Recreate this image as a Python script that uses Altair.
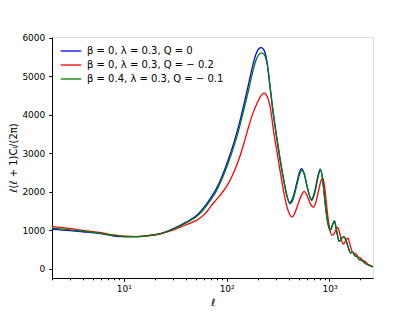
import altair as alt
import pandas as pd

labels = ["β = 0, λ = 0.3, Q = 0", "β = 0, λ = 0.3, Q = − 0.2", "β = 0.4, λ = 0.3, Q = − 0.1"]
colors = ["#0000ff", "#ff0000", "#008000"]

ell_blue = [2, 3, 4, 6, 8, 10, 13, 17, 22, 30, 40, 52, 62, 70, 79, 90, 104, 118, 131, 148, 164, 180, 192, 205, 217,
            230, 245, 265, 285, 308, 332, 357, 385, 409, 440, 480, 510, 535, 565, 610, 668, 720, 770, 813, 850, 890,
            930, 970, 1017, 1060, 1115, 1170, 1240, 1300, 1370, 1440, 1520, 1600, 1680, 1760, 1860, 1960, 2060, 2200,
            2400, 2650]
cl_blue = [1030, 995, 965, 915, 855, 838, 840, 865, 910, 1040, 1210, 1405, 1640, 1843, 2070, 2400, 2846, 3290, 3717,
           4300, 4820, 5290, 5560, 5710, 5740, 5680, 5420, 4678, 3980, 3369, 2800, 2322, 1900, 1720, 1840, 2230, 2500,
           2600, 2490, 2100, 1800, 2020, 2400, 2590, 2400, 1920, 1450, 1150, 1010, 1120, 1256, 1000, 720, 780, 840,
           760, 560, 420, 440, 350, 320, 240, 230, 160, 105, 55]

ell_red = [2, 3, 4, 6, 8, 10, 13, 17, 22, 30, 40, 52, 62, 70, 79, 90, 104, 118, 131, 148, 164, 180, 197, 215, 232,
           248, 265, 285, 308, 332, 357, 385, 409, 432, 460, 500, 535, 568, 610, 660, 700, 740, 790, 830, 863, 895,
           930, 965, 1005, 1050, 1100, 1150, 1207, 1260, 1310, 1369, 1440, 1511, 1580, 1660, 1740, 1820, 1900, 1990,
           2080, 2200, 2350, 2500, 2650]
cl_red = [1100, 1050, 1000, 940, 880, 848, 840, 858, 900, 1010, 1140, 1275, 1440, 1623, 1790, 1970, 2220, 2520, 2830,
          3280, 3700, 4040, 4290, 4490, 4560, 4470, 4200, 3600, 3050, 2520, 2030, 1620, 1420, 1350, 1450, 1720, 1920,
          2010, 1880, 1660, 1600, 1750, 2080, 2300, 2350, 2150, 1750, 1350, 1050, 880, 900, 1000, 1073, 920, 730,
          647, 740, 796, 640, 450, 410, 380, 310, 290, 230, 200, 130, 90, 60]

ell_green = [2, 3, 4, 6, 8, 10, 13, 17, 22, 30, 40, 52, 62, 70, 79, 90, 104, 118, 131, 148, 164, 180, 192, 205, 220,
             235, 250, 268, 288, 310, 334, 360, 388, 412, 443, 483, 513, 538, 568, 613, 671, 723, 773, 816, 853, 893,
             933, 973, 1020, 1063, 1118, 1173, 1243, 1303, 1373, 1443, 1523, 1603, 1683, 1763, 1863, 1963, 2063, 2200,
             2400, 2650]
cl_green = [1060, 1015, 980, 925, 870, 842, 838, 860, 905, 1030, 1190, 1380, 1600, 1790, 2010, 2330, 2760, 3190, 3600,
            4160, 4660, 5130, 5400, 5550, 5600, 5530, 5250, 4600, 3930, 3340, 2790, 2300, 1870, 1690, 1800, 2190, 2460,
            2560, 2460, 2080, 1770, 1990, 2370, 2570, 2380, 1900, 1440, 1140, 1000, 1110, 1245, 1000, 715, 775, 835,
            755, 555, 420, 430, 345, 315, 240, 225, 155, 100, 55]

x_major = [10, 100, 1000]
x_minor = [2, 3, 4, 5, 6, 7, 8, 9, 20, 30, 40, 50, 60, 70, 80, 90, 200, 300, 400, 500, 600, 700, 800, 900, 2000]
y_ticks = [0, 1000, 2000, 3000, 4000, 5000, 6000]

FONT = "DejaVu Sans"

xscale = alt.Scale(type="log", domain=[2, 2650], nice=False)
yscale = alt.Scale(domain=[-234, 6014], nice=False, zero=False)
cscale = alt.Scale(domain=labels, range=colors)

x_axis_major = alt.Axis(values=x_major, orient="bottom", grid=False, tickSize=3.2, labelPadding=3,
                        labelExpr="datum.value == 10 ? '10¹' : datum.value == 100 ? '10²' : '10³'",
                        labelFontSize=9, labelFont=FONT, labelColor="black", tickColor="black",
                        domainColor="black", title="ℓ", titleFont=FONT, titleFontSize=10,
                        titleFontWeight="normal", titleColor="black", titlePadding=4)
x_axis_minor = alt.Axis(values=x_minor, orient="bottom", grid=False, tickSize=1.8, labels=False,
                        domain=False, tickColor="black", title=None)
y_axis = alt.Axis(values=y_ticks, format="d", grid=False, tickSize=3.2, labelPadding=4, labelFontSize=9,
                  labelFont=FONT, labelColor="black", tickColor="black", domainColor="black",
                  title="ℓ(ℓ + 1)Cₗ/(2π)", titleFont=FONT, titleFontSize=10, titleFontWeight="normal",
                  titleColor="black", titlePadding=3)
legend = alt.Legend(title=None, orient="none", legendX=10, legendY=5, symbolType="M-1.3,0H1.3",
                    symbolSize=250, symbolStrokeWidth=1.3, labelFontSize=10, labelFont=FONT,
                    labelColor="black", labelOffset=7, rowPadding=0, padding=0)


def frame(ell, cl, label):
    return pd.DataFrame({"ell": ell, "cl": cl, "model": label})


def line_layer(df, xaxis):
    return alt.Chart(df).mark_line(strokeWidth=1.3, interpolate="monotone").encode(
        x=alt.X("ell:Q", scale=xscale, axis=xaxis),
        y=alt.Y("cl:Q", scale=yscale, axis=y_axis),
        color=alt.Color("model:N", scale=cscale, legend=legend),
    )


df_b = frame(ell_blue, cl_blue, labels[0])
df_r = frame(ell_red, cl_red, labels[1])
df_g = frame(ell_green, cl_green, labels[2])

blue = line_layer(df_b, x_axis_major)
red = line_layer(df_r, None)
green = line_layer(df_g, None)
minor = alt.Chart(df_b).mark_line(opacity=0).encode(
    x=alt.X("ell:Q", scale=xscale, axis=x_axis_minor),
    y=alt.Y("cl:Q", scale=yscale, axis=y_axis),
)

chart = alt.layer(blue, red, green, minor).resolve_axis(x="independent").properties(
    width=321, height=241,
    autosize=alt.AutoSizeParams(type="none"),
    padding={"left": 44, "top": 29, "right": 20, "bottom": 40},
).configure_view(stroke="black", strokeWidth=1).configure(background="white")

chart.save("out.html", embed_options={"renderer": "svg", "actions": False})
